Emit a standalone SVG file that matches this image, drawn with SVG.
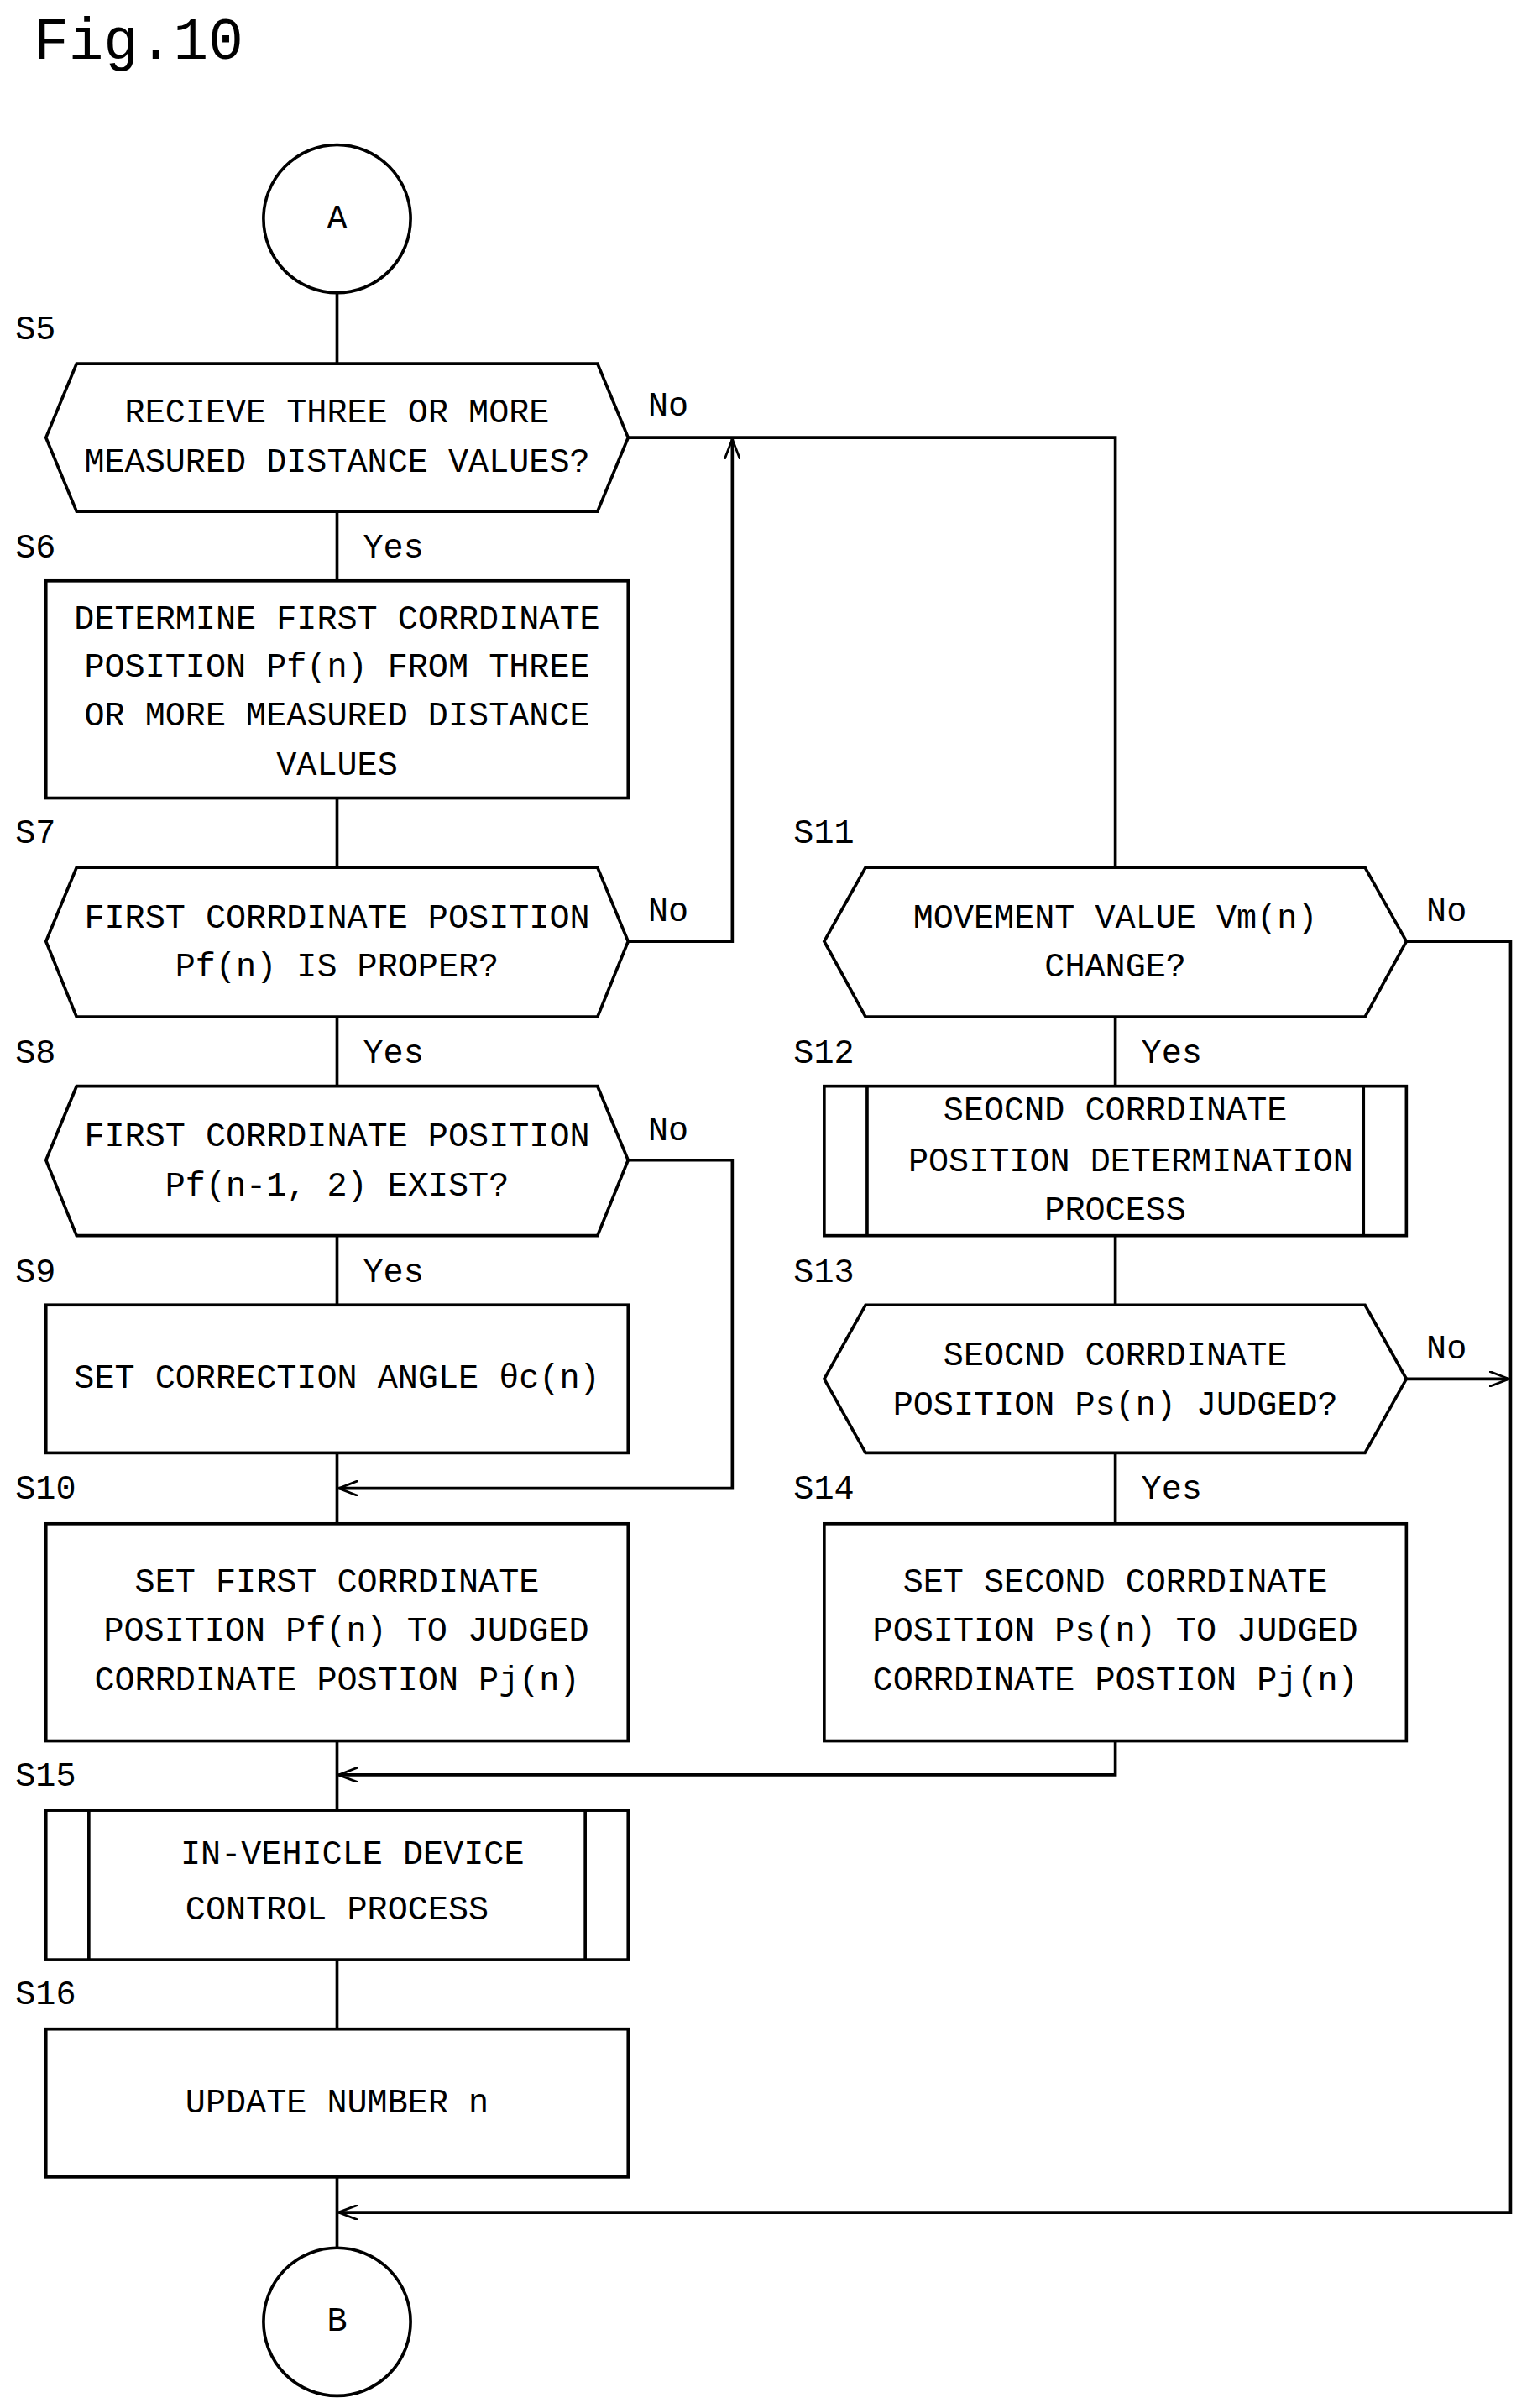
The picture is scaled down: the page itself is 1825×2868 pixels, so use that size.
<svg xmlns="http://www.w3.org/2000/svg" width="1825" height="2868" viewBox="0 0 1825 2868">
<style>
.s{fill:#fff;stroke:#000;stroke-width:2}
.l{fill:none;stroke:#000;stroke-width:2}
text{font-family:"Liberation Mono","DejaVu Sans Mono",monospace;font-size:22px;dominant-baseline:central;fill:#000}
.c{text-anchor:middle}
</style>
<defs><marker id="a" markerWidth="14" markerHeight="10" refX="13" refY="5" orient="auto" markerUnits="userSpaceOnUse"><path d="M0,0 L13,5 L0,10" fill="none" stroke="#000" stroke-width="1.5"/></marker></defs>
<rect width="1825" height="2868" fill="#fff"/>
<g transform="scale(1.825 1.835)">
<text x="22" y="28" style="font-size:38px">Fig.10</text>
<g id="connectors">
<path class="l" d="M220,190V236M220,332V377M220,518V563M220,660V705M220,802V847M220,943V989M220,1130V1175M220,1272V1317M220,1413V1459"/>
<path class="l" d="M728,660V705M728,802V847M728,943V989"/>
<path class="l" d="M410,284H728V563"/>
<path class="l" d="M410,611H478V285" marker-end="url(#a)"/>
<path class="l" d="M410,753H478V966H221" marker-end="url(#a)"/>
<path class="l" d="M918,611H986V1436H221" marker-end="url(#a)"/>
<path class="l" d="M918,895H985" marker-end="url(#a)"/>
<path class="l" d="M728,1130V1152H221" marker-end="url(#a)"/>
</g>
<g id="A"><circle class="s" cx="220" cy="142" r="48"/><text class="c" x="220" y="142">A</text></g>
<g id="S5"><polygon class="s" points="30,284 50,236 390,236 410,284 390,332 50,332"/><text class="c" x="220" y="268">RECIEVE THREE OR MORE</text><text class="c" x="220" y="300">MEASURED DISTANCE VALUES?</text></g>
<g id="S6"><rect class="s" x="30" y="377" width="380" height="141"/><text class="c" x="220" y="402">DETERMINE FIRST CORRDINATE</text><text class="c" x="220" y="433">POSITION Pf(n) FROM THREE</text><text class="c" x="220" y="465">OR MORE MEASURED DISTANCE</text><text class="c" x="220" y="497">VALUES</text></g>
<g id="S7"><polygon class="s" points="30,611 50,563 390,563 410,611 390,660 50,660"/><text class="c" x="220" y="596">FIRST CORRDINATE POSITION</text><text class="c" x="220" y="628">Pf(n) IS PROPER?</text></g>
<g id="S8"><polygon class="s" points="30,753 50,705 390,705 410,753 390,802 50,802"/><text class="c" x="220" y="738">FIRST CORRDINATE POSITION</text><text class="c" x="220" y="770">Pf(n-1, 2) EXIST?</text></g>
<g id="S9"><rect class="s" x="30" y="847" width="380" height="96"/><text class="c" x="220" y="895">SET CORRECTION ANGLE θc(n)</text></g>
<g id="S10"><rect class="s" x="30" y="989" width="380" height="141"/><text class="c" x="220" y="1027">SET FIRST CORRDINATE</text><text class="c" x="226" y="1059">POSITION Pf(n) TO JUDGED</text><text class="c" x="220" y="1091">CORRDINATE POSTION Pj(n)</text></g>
<g id="S15"><rect class="s" x="30" y="1175" width="380" height="97"/><path class="l" d="M58,1175V1272M382,1175V1272"/><text class="c" x="230" y="1204">IN-VEHICLE DEVICE</text><text class="c" x="220" y="1240">CONTROL PROCESS</text></g>
<g id="S16"><rect class="s" x="30" y="1317" width="380" height="96"/><text class="c" x="220" y="1365">UPDATE NUMBER n</text></g>
<g id="B"><circle class="s" cx="220" cy="1507" r="48"/><text class="c" x="220" y="1507">B</text></g>
<g id="S11"><polygon class="s" points="538,611 565,563 891,563 918,611 891,660 565,660"/><text class="c" x="728" y="596">MOVEMENT VALUE Vm(n)</text><text class="c" x="728" y="628">CHANGE?</text></g>
<g id="S12"><rect class="s" x="538" y="705" width="380" height="97"/><path class="l" d="M566,705V802M890,705V802"/><text class="c" x="728" y="721">SEOCND CORRDINATE</text><text class="c" x="738" y="754">POSITION DETERMINATION</text><text class="c" x="728" y="786">PROCESS</text></g>
<g id="S13"><polygon class="s" points="538,895 565,847 891,847 918,895 891,943 565,943"/><text class="c" x="728" y="880">SEOCND CORRDINATE</text><text class="c" x="728" y="912">POSITION Ps(n) JUDGED?</text></g>
<g id="S14"><rect class="s" x="538" y="989" width="380" height="141"/><text class="c" x="728" y="1027">SET SECOND CORRDINATE</text><text class="c" x="728" y="1059">POSITION Ps(n) TO JUDGED</text><text class="c" x="728" y="1091">CORRDINATE POSTION Pj(n)</text></g>
<g id="labels">
<text x="10" y="214">S5</text><text x="10" y="356">S6</text><text x="10" y="541">S7</text><text x="10" y="684">S8</text><text x="10" y="826">S9</text><text x="10" y="967">S10</text><text x="10" y="1153">S15</text><text x="10" y="1295">S16</text>
<text x="518" y="541">S11</text><text x="518" y="684">S12</text><text x="518" y="826">S13</text><text x="518" y="967">S14</text>
<text x="237" y="356">Yes</text><text x="237" y="684">Yes</text><text x="237" y="826">Yes</text><text x="745" y="684">Yes</text><text x="745" y="967">Yes</text>
<text x="423" y="264">No</text><text x="423" y="592">No</text><text x="423" y="734">No</text><text x="931" y="592">No</text><text x="931" y="876">No</text>
</g>
</g>
</svg>
